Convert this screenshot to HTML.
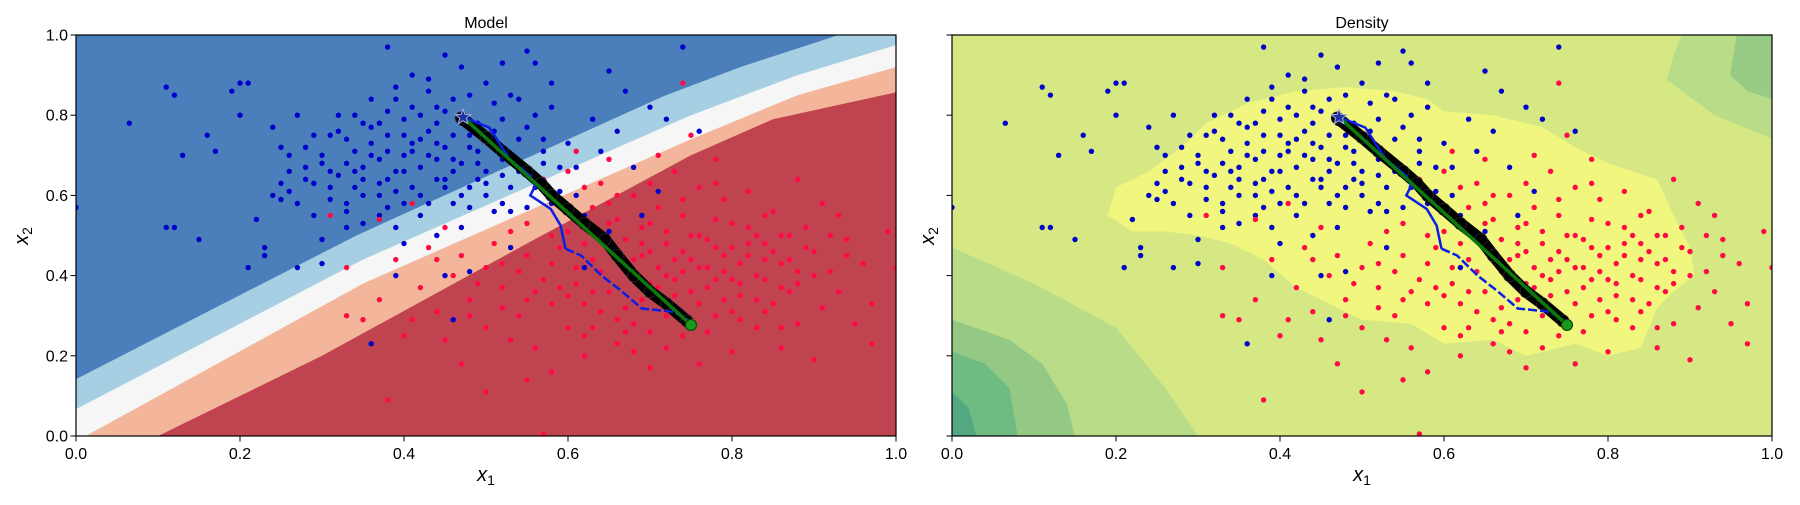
<!DOCTYPE html>
<html><head><meta charset="utf-8"><style>
html,body{margin:0;padding:0;background:#fff;}
svg text{font-family:"Liberation Sans","DejaVu Sans",sans-serif;}
</style></head><body>
<svg id="fig" xmlns="http://www.w3.org/2000/svg" width="1800" height="500" viewBox="0 0 1800 500"></svg>
<script>
// ---------- data ----------
const xTicks=[0,0.2,0.4,0.6,0.8,1.0];
const yTicks=[0,0.2,0.4,0.6,0.8,1.0];
const tickLabels=["0.0","0.2","0.4","0.6","0.8","1.0"];
const blueX=[0.065,0.11,0.12,0.11,0.12,0.15,0.13,0.16,0.17,0.2,0.21,0.19,0.2,0.22,0.21,0.23,0.24,0.25,0.23,0.25,0.26,0.27,0.28,0.28,0.29,0.3,0.3,0.31,0.31,0.32,0.33,0.33,0.34,0.35,0.35,0.36,0.37,0.37,0.38,0.38,0.39,0.39,0.40,0.40,0.41,0.41,0.42,0.42,0.43,0.43,0.44,0.44,0.45,0.45,0.46,0.46,0.47,0.48,0.48,0.49,0.5,0.5,0.51,0.52,0.52,0.53,0.53,0.54,0.55,0.56,0.57,0.58,0.59,0.6,0.62,0.63,0.65,0.66,0.68,0.7,0.72,0.74,0.76,0.38,0.45,0.55,0.56,0.36,0.46,0.48,0.40,0.44,0.35,0.32,0.27,0.29,0.37,0.39,0.42,0.47,0.5,0.33,0.36,0.4,0.43,0.44,0.47,0.49,0.51,0.34,0.3,0.26,0.24,0.38,0.41,0.46,0.48,0.52,0.57,0.61,0.64,0.67,0.58,0.53,0.65,0.62,0.45,0.39,0.69,0.71,0.0,
0.30,0.31,0.32,0.33,0.34,0.35,0.36,0.37,0.38,0.39,0.40,0.41,0.42,0.43,0.44,0.45,0.46,0.47,0.48,0.49,0.50,0.51,0.52,0.53,0.54,0.55,0.56,0.57,0.58,0.59,0.36,0.38,0.40,0.42,0.44,0.46,0.48,0.50,0.52,0.54,0.34,0.37,0.41,0.45,0.49,0.53,0.57,0.61,0.28,0.26,0.25,0.27,0.29,0.31,0.33,0.35,0.39,0.43,0.47,0.51];
const blueY=[0.78,0.87,0.85,0.52,0.52,0.49,0.70,0.75,0.71,0.88,0.88,0.86,0.80,0.54,0.42,0.47,0.60,0.59,0.45,0.72,0.61,0.42,0.72,0.67,0.55,0.49,0.43,0.59,0.75,0.65,0.74,0.56,0.71,0.67,0.60,0.84,0.78,0.63,0.71,0.57,0.87,0.66,0.79,0.70,0.62,0.82,0.74,0.67,0.58,0.89,0.78,0.69,0.64,0.72,0.84,0.58,0.68,0.75,0.62,0.71,0.88,0.66,0.56,0.79,0.69,0.85,0.62,0.74,0.57,0.80,0.68,0.88,0.61,0.73,0.55,0.79,0.91,0.76,0.67,0.82,0.79,0.97,0.76,0.97,0.95,0.96,0.93,0.23,0.29,0.41,0.48,0.50,0.53,0.80,0.80,0.63,0.60,0.52,0.55,0.52,0.60,0.68,0.73,0.75,0.70,0.82,0.78,0.64,0.72,0.62,0.70,0.66,0.77,0.81,0.90,0.75,0.85,0.93,0.74,0.67,0.71,0.86,0.58,0.47,0.51,0.42,0.40,0.40,0.55,0.61,0.57,
0.68,0.62,0.76,0.58,0.80,0.64,0.70,0.55,0.75,0.61,0.66,0.71,0.60,0.76,0.64,0.81,0.69,0.60,0.72,0.78,0.63,0.83,0.58,0.70,0.66,0.77,0.62,0.71,0.82,0.67,0.77,0.64,0.58,0.80,0.73,0.66,0.57,0.74,0.65,0.84,0.66,0.69,0.73,0.62,0.68,0.56,0.63,0.60,0.64,0.70,0.63,0.58,0.75,0.66,0.52,0.78,0.84,0.86,0.92,0.76];
const redX=[0.57,0.58,0.6,0.62,0.63,0.64,0.65,0.66,0.67,0.68,0.69,0.7,0.71,0.72,0.73,0.74,0.75,0.76,0.77,0.78,0.79,0.8,0.81,0.82,0.83,0.84,0.85,0.86,0.87,0.88,0.9,0.92,0.94,0.96,0.97,0.99,0.91,0.88,0.86,0.9,0.83,0.8,0.78,0.76,0.74,0.72,0.7,0.68,0.66,0.64,0.62,0.6,0.58,0.56,0.54,0.52,0.5,0.48,0.46,0.44,0.42,0.41,0.39,0.37,0.35,0.33,0.31,0.37,0.43,0.47,0.5,0.53,0.55,0.57,0.59,0.61,0.63,0.65,0.67,0.69,0.71,0.73,0.75,0.77,0.79,0.81,0.83,0.85,0.87,0.89,0.93,0.95,0.79,0.82,0.76,0.73,0.71,0.75,0.78,0.74,0.65,0.61,0.55,0.51,0.45,0.41,0.47,0.5,0.53,0.55,0.58,0.63,0.67,0.7,0.72,0.77,0.81,0.84,0.86,0.88,0.91,0.73,0.75,0.69,0.66,0.64,0.6,0.58,0.56,0.54,0.52,0.49,0.45,0.4,0.38,0.33,0.57,0.97,1.0,0.93,0.84,0.8,0.78,0.74,0.7,0.68,0.62,0.59,
0.60,0.62,0.64,0.66,0.68,0.70,0.72,0.74,0.76,0.78,0.80,0.82,0.84,0.86,0.88,0.61,0.63,0.65,0.67,0.69,0.71,0.73,0.75,0.77,0.79,0.81,0.83,0.85,0.87,0.89,0.66,0.70,0.74,0.78,0.82,0.86,0.90,0.94,0.55,0.58,0.52,0.48,0.44,0.62,0.68,0.72,0.76,0.80,0.84,0.92];
const redY=[0.64,0.61,0.66,0.62,0.57,0.63,0.58,0.54,0.49,0.60,0.45,0.53,0.42,0.48,0.39,0.55,0.44,0.50,0.37,0.47,0.41,0.53,0.35,0.45,0.40,0.48,0.33,0.43,0.50,0.38,0.46,0.41,0.49,0.43,0.33,0.51,0.58,0.64,0.22,0.19,0.27,0.21,0.30,0.18,0.25,0.22,0.17,0.28,0.23,0.31,0.20,0.27,0.33,0.22,0.30,0.37,0.27,0.34,0.40,0.31,0.37,0.29,0.44,0.34,0.29,0.42,0.55,0.54,0.47,0.45,0.42,0.51,0.45,0.39,0.47,0.38,0.44,0.36,0.41,0.34,0.37,0.32,0.36,0.42,0.34,0.43,0.50,0.56,0.44,0.52,0.36,0.28,0.59,0.61,0.62,0.66,0.70,0.75,0.69,0.88,0.69,0.71,0.53,0.48,0.52,0.58,0.18,0.11,0.24,0.14,0.16,0.27,0.32,0.26,0.30,0.26,0.29,0.31,0.37,0.28,0.32,0.44,0.50,0.52,0.46,0.50,0.51,0.43,0.36,0.41,0.32,0.38,0.24,0.25,0.09,0.30,0.005,0.23,0.42,0.55,0.39,0.47,0.39,0.41,0.46,0.39,0.33,0.37,
0.35,0.48,0.41,0.29,0.44,0.38,0.51,0.46,0.33,0.54,0.39,0.48,0.44,0.50,0.41,0.42,0.36,0.53,0.26,0.48,0.57,0.35,0.28,0.49,0.45,0.38,0.34,0.46,0.36,0.47,0.60,0.63,0.59,0.63,0.52,0.27,0.40,0.45,0.34,0.50,0.43,0.30,0.44,0.25,0.21,0.40,0.42,0.31,0.55,0.50];
// optimisation path (blue) and the black trajectory band
const pathX=[0.47,0.504,0.529,0.554,0.56,0.554,0.579,0.591,0.597,0.616,0.641,0.666,0.69,0.728,0.744,0.75];
const pathY=[0.797,0.769,0.69,0.649,0.624,0.6,0.566,0.525,0.467,0.45,0.40,0.36,0.318,0.31,0.293,0.277];
const trajX=[0.47,0.50,0.52,0.55,0.567,0.58,0.60,0.62,0.645,0.66,0.68,0.70,0.72,0.745];
const trajY=[0.793,0.745,0.71,0.66,0.63,0.60,0.565,0.53,0.49,0.45,0.40,0.36,0.33,0.287];
const startPt=[0.472,0.795];
const endPt=[0.75,0.277];
// decision-function contour boundaries (Model)
const b1X=[0,0.342,0.529,0.716,0.81,0.93,1.0], b1Y=[0.142,0.5,0.674,0.847,0.92,1.0,1.0];
const b2X=[0,0.35,0.55,0.75,0.88,1.0], b2Y=[0.067,0.44,0.62,0.80,0.90,0.975];
const b3X=[0.012,0.35,0.55,0.75,0.88,1.0], b3Y=[0,0.38,0.56,0.74,0.85,0.92];
const b4X=[0.1,0.3,0.55,0.75,0.85,1.0], b4Y=[0,0.2,0.48,0.70,0.79,0.857];
// density contours
const blobX=[0.19,0.2,0.24,0.28,0.31,0.36,0.42,0.48,0.54,0.58,0.6,0.66,0.72,0.76,0.8,0.86,0.88,0.9,0.905,0.88,0.86,0.84,0.8,0.76,0.7,0.66,0.6,0.56,0.5,0.46,0.42,0.38,0.34,0.3,0.26,0.22];
const blobY=[0.55,0.62,0.66,0.72,0.78,0.83,0.86,0.87,0.86,0.84,0.81,0.80,0.77,0.72,0.68,0.64,0.55,0.47,0.40,0.36,0.32,0.22,0.20,0.23,0.20,0.24,0.23,0.28,0.29,0.33,0.37,0.44,0.48,0.50,0.51,0.51];
const g1X=[0,0.1,0.2,0.26,0.3,0], g1Y=[0.47,0.38,0.27,0.12,0,0];
const g2X=[0,0.07,0.11,0.14,0.15,0], g2Y=[0.29,0.24,0.18,0.08,0,0];
const g3X=[0,0.04,0.07,0.08,0], g3Y=[0.21,0.18,0.12,0,0];
const g4X=[0,0.02,0.03,0], g4Y=[0.11,0.07,0,0];
const t1X=[0.89,0.88,0.872,0.93,0.99,1.0,1.0], t1Y=[1.0,0.95,0.888,0.80,0.75,0.74,1.0];
const t2X=[0.957,0.949,0.97,1.0,1.0], t2Y=[1.0,0.90,0.86,0.84,1.0];

// ---------- drawing ----------
const NS="http://www.w3.org/2000/svg";
const svg=document.getElementById('fig');
function mk(tag,attrs,parent){const e=document.createElementNS(NS,tag);for(const k in attrs)e.setAttribute(k,attrs[k]);(parent||svg).appendChild(e);return e;}
const T=35,B=436,W=820;
function axes(L){return {x:v=>L+v*W,y:v=>B-v*(B-T)};}
function pts(ax,xs,ys){return xs.map((v,i)=>ax.x(v).toFixed(1)+','+ax.y(ys[i]).toFixed(1)).join(' ');}
function clip(id,L){const d=mk('clipPath',{id:id});mk('rect',{x:L,y:T,width:W,height:B-T},d);}

function drawScatterAndPath(g,ax){
  blueX.forEach((v,i)=>{const c=mk('circle',{cx:ax.x(v),cy:ax.y(blueY[i]),r:2.7,fill:'#0000cc'},g);
    
    });
  redX.forEach((v,i)=>{const c=mk('circle',{cx:ax.x(v),cy:ax.y(redY[i]),r:2.7,fill:'#ff0a45'},g);
    
    });
  const band=mk('polyline',{points:pts(ax,trajX,trajY),fill:'none',stroke:'#000','stroke-width':12,'stroke-linecap':'round','stroke-linejoin':'round'},g);
  
  
  trajX.forEach((v,i)=>{const c=mk('circle',{cx:ax.x(v),cy:ax.y(trajY[i]),r:6,fill:'#000',stroke:'#222','stroke-width':1},g);
    
    });
  const n=8;
  const p1=mk('polyline',{points:pts(ax,pathX.slice(0,n+1),pathY.slice(0,n+1)),fill:'none',stroke:'#0a1ee6','stroke-width':2.5},g);
  
  
  const p2=mk('polyline',{points:pts(ax,pathX.slice(n),pathY.slice(n)),fill:'none',stroke:'#0a1ee6','stroke-width':2.5,'stroke-dasharray':'9,3'},g);
  
  
  const gl=mk('line',{x1:ax.x(startPt[0]),y1:ax.y(startPt[1]),x2:ax.x(endPt[0]),y2:ax.y(endPt[1]),stroke:'#0b7a0b','stroke-width':3.5},g);
  
  
  const sx=ax.x(startPt[0]),sy=ax.y(startPt[1]);
  let s='';for(let k=0;k<10;k++){const r=k%2?3.5:8,a=-Math.PI/2+k*Math.PI/5;s+=(sx+r*Math.cos(a)).toFixed(1)+','+(sy+r*Math.sin(a)).toFixed(1)+' ';}
  const st=mk('polygon',{points:s,fill:'#2233aa',stroke:'#aab0e0','stroke-width':1},g);
  
  
  const ec=mk('circle',{cx:ax.x(endPt[0]),cy:ax.y(endPt[1]),r:5.5,fill:'#1a9a1a',stroke:'#0a4a0a','stroke-width':1.2},g);
  
  
}

function frame(L,title,showY,name){
  const ax=axes(L);
  mk('rect',{x:L,y:T,width:W,height:B-T,fill:'none',stroke:'#000','stroke-width':1.2});
  xTicks.forEach((v,i)=>{mk('line',{x1:ax.x(v),y1:B,x2:ax.x(v),y2:B+5.5,stroke:'#000','stroke-width':1});
    const t=mk('text',{x:ax.x(v),y:459,'font-size':16,'text-anchor':'middle',fill:'#000'});t.textContent=tickLabels[i];
    
    });
  yTicks.forEach((v,i)=>{mk('line',{x1:L,y1:ax.y(v),x2:L-5.5,y2:ax.y(v),stroke:'#000','stroke-width':1});
    if(showY){const t=mk('text',{x:L-8,y:ax.y(v)+5.5,'font-size':16,'text-anchor':'end',fill:'#000'});t.textContent=tickLabels[i];
    
    }});
  const tt=mk('text',{x:L+W/2,y:28,'font-size':16,'text-anchor':'middle',fill:'#000'});tt.textContent=title;
  
  
  const xl=mk('text',{x:L+W/2,y:481,'font-size':20,'text-anchor':'middle',fill:'#000'});
  xl.innerHTML='<tspan font-style="italic">x</tspan><tspan font-size="14" dy="4">1</tspan>';
  
  
  const yx=showY?28:L-18;
  const yl=mk('text',{x:yx,y:236,'font-size':20,'text-anchor':'middle',fill:'#000',transform:'rotate(-90 '+yx+' 236)'});
  yl.innerHTML='<tspan font-style="italic">x</tspan><tspan font-size="14" dy="4">2</tspan>';
  
  
}

// Left: Model
(function(){
  const L=76, ax=axes(L); clip('cl',L);
  const g=mk('g',{'clip-path':'url(#cl)'});  
  mk('rect',{x:L,y:T,width:W,height:B-T,fill:'#c0444f'},g);
  function region(xs,ys,col,nm){const p=mk('polygon',{points:pts(ax,xs,ys)+' '+ax.x(1.02)+','+ax.y(1.02)+' '+ax.x(-0.02)+','+ax.y(1.02)+' '+ax.x(-0.02)+','+ax.y(ys[0]),fill:col},g);
    
    }
  region(b4X.concat([1.02]),b4Y.concat([b4Y[b4Y.length-1]]),'#f4b69a','contour-salmon');
  region(b3X.concat([1.02]),b3Y.concat([b3Y[b3Y.length-1]]),'#f5f6f5','contour-white');
  region(b2X.concat([1.02]),b2Y.concat([b2Y[b2Y.length-1]]),'#a6cfe3','contour-light-blue');
  region(b1X.concat([1.02]),b1Y.concat([1.0]),'#4a7fbb','contour-dark-blue');
  drawScatterAndPath(g,ax);
  frame(L,'Model',true,'model');
})();
// Right: Density
(function(){
  const L=952, ax=axes(L); clip('cr',L);
  const g=mk('g',{'clip-path':'url(#cr)'});  
  mk('rect',{x:L,y:T,width:W,height:B-T,fill:'#d5e884'},g);
  [[g1X,g1Y,'#b8dc87'],[g2X,g2Y,'#93c985'],[g3X,g3Y,'#6fbb81'],[g4X,g4Y,'#52a881'],[t1X,t1Y,'#b8dc87'],[t2X,t2Y,'#98cc86'],[blobX,blobY,'#f1f67e']].forEach((a,i)=>{
    const p=mk('polygon',{points:pts(ax,a[0],a[1]),fill:a[2],'stroke-linejoin':'round'},g);
    
    });
  drawScatterAndPath(g,ax);
  frame(L,'Density',false,'density');
})();
</script>
</body></html>
